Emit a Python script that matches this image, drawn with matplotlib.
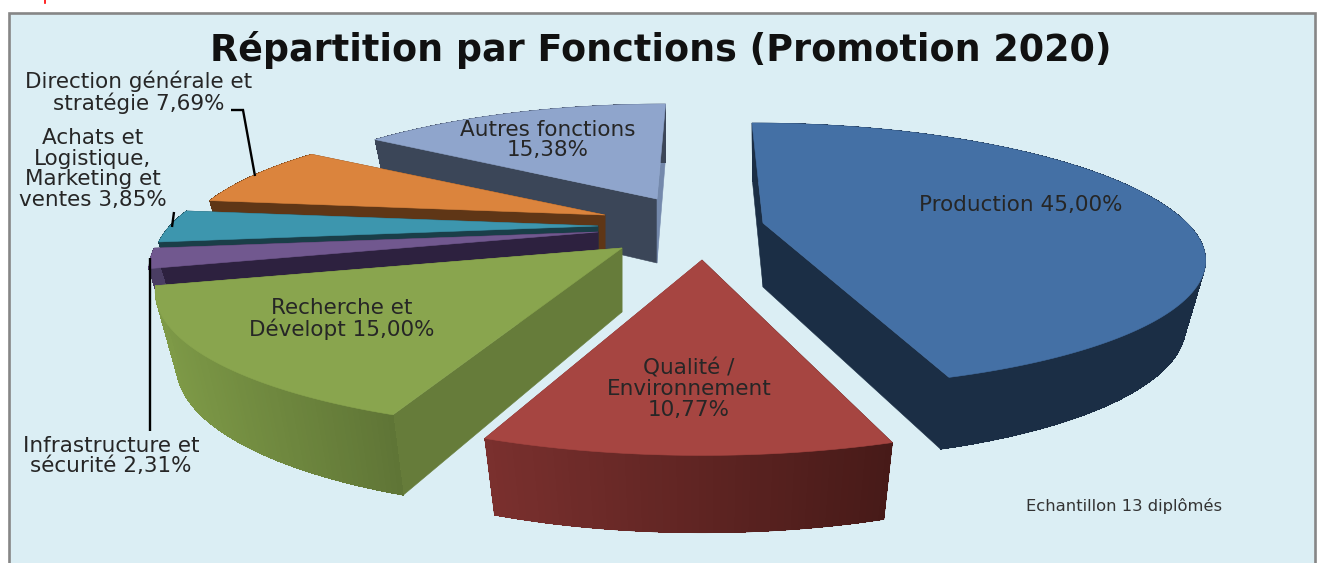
import numpy as np
import matplotlib
matplotlib.use("Agg")
import matplotlib.pyplot as plt
from matplotlib.colors import to_rgb
from matplotlib.patches import Polygon, Rectangle

# ---------- data ----------
title = "Répartition par Fonctions (Promotion 2020)"
note = "Echantillon 13 diplômés"
labels = ["Production 45,00%", "Qualité /\nEnvironnement\n10,77%", "Recherche et\nDévelopt 15,00%",
          "Infrastructure et\nsécurité 2,31%", "Achats et\nLogistique,\nMarketing et\nventes 3,85%",
          "Direction générale et\nstratégie 7,69%", "Autres fonctions\n15,38%"]
values = [45.00, 10.77, 15.00, 2.31, 3.85, 7.69, 15.38]

# ---------- styles ----------
top_colors = ["#4470A5", "#A64541", "#89A54E", "#71588F", "#3D96AE", "#DB843D", "#8FA5CC"]
arc_left = ["#1B2E45", "#7A302E", "#7E9A47", "#4A3D63", "#1A3E48", "#5F3616", "#3B4658"]
arc_right = ["#1B2E45", "#471A18", "#5F7536", "#4A3D63", "#1A3E48", "#5F3616", "#3B4658"]
start_face = ["#1B2E45", "#471A18", "#667C3A", "#2D213F", "#1A3E48", "#5F3616", "#3B4658"]
end_face = ["#1B2E45", "#7A302E", "#667C3A", "#2D213F", "#1A3E48", "#5F3616", "#7489AC"]
apex_x = [763, 702, 622, 598, 598, 605, 657]
apex_y = [223, 260, 248, 232, 226, 215, 199]
scale = [1.0, 1.08, 1.05, 1.02, 1.01, 0.97, 0.95]
front_y = [0.95, 1.04, 1.0, 1.0, 1.0, 1.0, 1.0]
depth_k = [1.0, 1.08, 1.12, 1.0, 1.0, 1.0, 1.0]
lean_back = [0.11, 0, 0, 0, 0, 0, -0.09]
lean_front = [0.06, 0, -0.107, 0, 0, 0, 0]
draw_order = [6, 5, 4, 3, 2, 1, 0]
label_xy = [(1021, 205), (689, 389), (342, 319), (111, 456), (93, 169), (139, 92), (548, 140)]

R, A, K = 424.0, 127.0, 0.27   # pie perspective
D0, BOTTOM = 64.0, 0.955       # thickness and narrowing of the lower rim

TEXT = "#262626"
BG = "#DBEEF4"

fig = plt.figure(figsize=(13.17, 5.63), dpi=100, facecolor="white")
ax = fig.add_axes([0, 0, 1, 1])
ax.set_xlim(0, 1317)
ax.set_ylim(563, 0)
ax.axis("off")

ax.add_patch(Rectangle((8.5, 12.5), 1306, 560, facecolor=BG, edgecolor="#868686", lw=1.9, zorder=0))
ax.plot([45, 45], [0, 3], color="red", lw=1.2, zorder=1)

def project(deg, i):
    t = np.radians(deg)
    u, v = np.sin(t), -np.cos(t)
    w = 1 - K * v
    x = R * u / w * scale[i]
    y = A * v / w * scale[i]
    x = x + np.where(y < 0, lean_back[i] * y, lean_front[i] * y)
    y = np.where(y > 0, y * front_y[i], y)
    return x, y, w

def poly(pts, color, z, aa=True, lw=0.4):
    ax.add_patch(Polygon(pts, closed=True, facecolor=color, edgecolor=color if lw else "none",
                         lw=lw, zorder=z, antialiased=aa))

def mix(c0, c1, f):
    a, b = np.array(to_rgb(c0)), np.array(to_rgb(c1))
    return tuple(a + (b - a) * f)

edges = np.concatenate([[0], np.cumsum(values)]) * 360.0 / sum(values)

for rank, i in enumerate(draw_order):
    z = 2 + rank
    a0, a1 = edges[i], edges[i + 1]
    n = max(int((a1 - a0) * 1.5), 6)
    th = np.linspace(a0, a1, n)
    dx, dy, w = project(th, i)
    xt = apex_x[i] + dx
    yt = apex_y[i] + dy
    xb = apex_x[i] + BOTTOM * dx
    yb = apex_y[i] + BOTTOM * dy + D0 * depth_k[i] * w ** -0.7
    ax_b, ay_b = apex_x[i], apex_y[i] + D0
    ax_t, ay_t = apex_x[i], apex_y[i]
    # radial cut faces
    poly([(ax_t, ay_t), (xt[0], yt[0]), (xb[0], yb[0]), (ax_b, ay_b)], start_face[i], z)
    poly([(ax_t, ay_t), (xt[-1], yt[-1]), (xb[-1], yb[-1]), (ax_b, ay_b)], end_face[i], z)
    # outer rim, shaded from left to right, on a smooth base
    rim = np.vstack([np.column_stack([xt, yt]), np.column_stack([xb, yb])[::-1]])
    poly(rim, mix(arc_left[i], arc_right[i], 0.5), z)
    lo, hi = xt.min(), xt.max()
    for j in range(n - 1):
        f = (0.5 * (xt[j] + xt[j + 1]) - lo) / max(hi - lo, 1)
        poly([(xt[j], yt[j]), (xt[j + 1], yt[j + 1]), (xb[j + 1], yb[j + 1]), (xb[j], yb[j])],
             mix(arc_left[i], arc_right[i], f), z, aa=False, lw=0)
    # top face
    poly(np.vstack([[ax_t, ay_t], np.column_stack([xt, yt])]), top_colors[i], z)

leaders = [([231, 243, 255], [110, 110, 176]), ([174, 172], [212, 227]), ([150, 150], [258, 431])]
for lx, ly in leaders:
    ax.plot(lx, ly, color="black", lw=1.7, zorder=20, solid_capstyle="butt", solid_joinstyle="miter")

for s, (x, y) in zip(labels, label_xy):
    ax.text(x, y, s, ha="center", va="center", fontsize=15.5, color=TEXT, linespacing=1.05,
            family="DejaVu Sans", zorder=30)

ax.text(661, 50, title, ha="center", va="center", fontsize=26.3, fontweight="bold", color="#111111",
        family="DejaVu Sans", zorder=30)
ax.text(1124, 506, note, ha="center", va="center", fontsize=11.8, color="#333333",
        family="DejaVu Sans", zorder=30)

fig.savefig("out.png", dpi=100, facecolor="white")
